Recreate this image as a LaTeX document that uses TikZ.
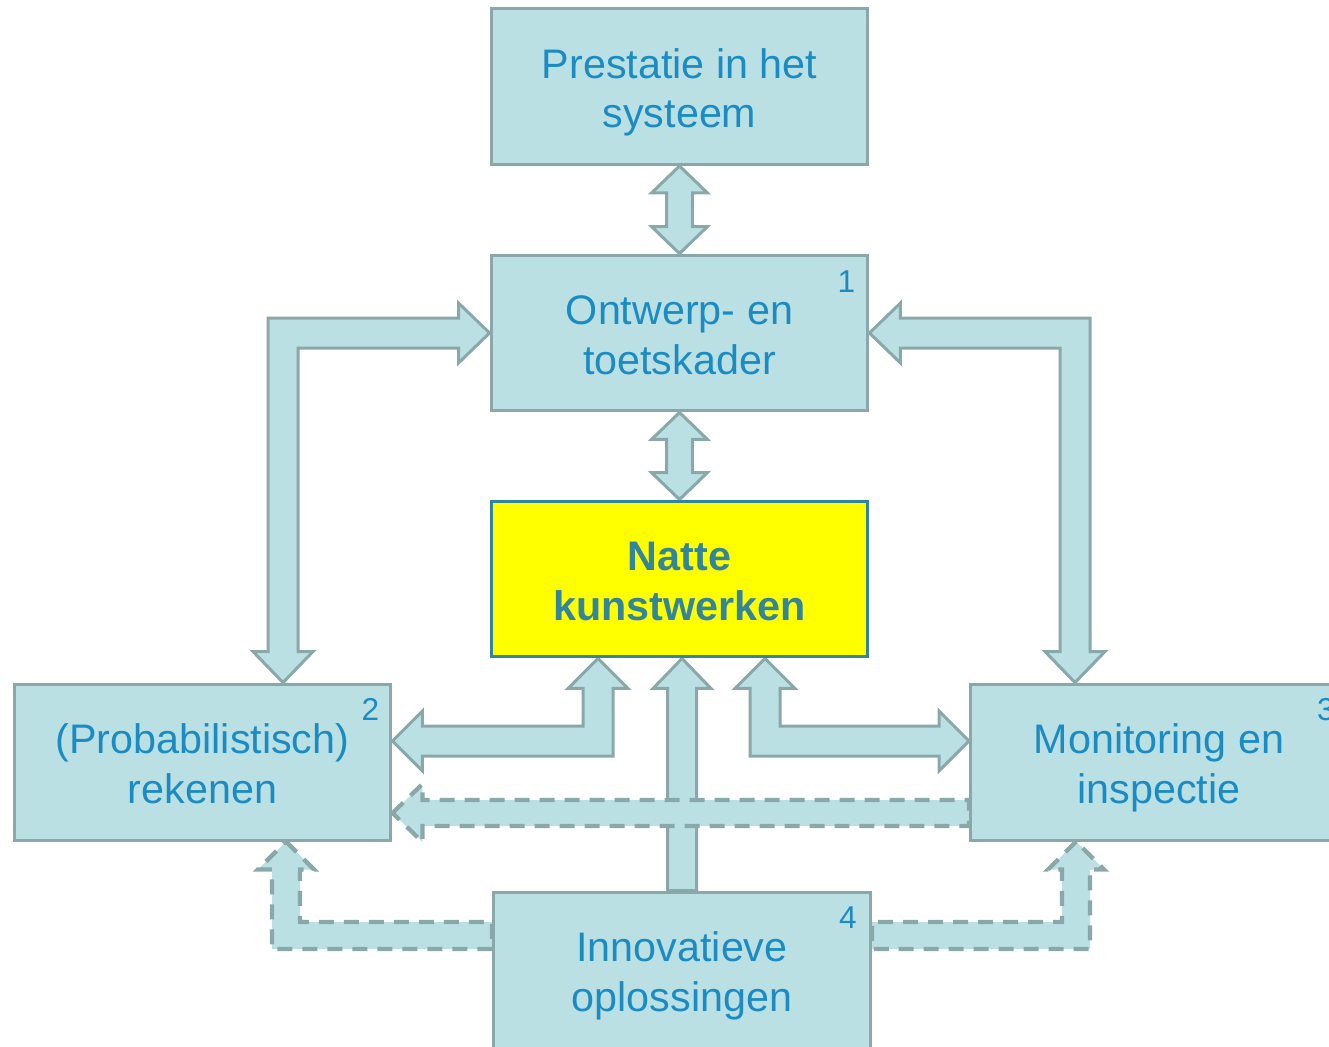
\documentclass[tikz,border=0pt]{standalone}
\usepackage{fontspec}
\setmainfont{Liberation Sans}
\usetikzlibrary{calc,backgrounds}
\definecolor{boxfill}{HTML}{BBE0E4}
\definecolor{boxline}{HTML}{8AA8AA}
\definecolor{txtblue}{HTML}{1B8BC3}
\definecolor{coreline}{HTML}{31859C}
\definecolor{corefill}{HTML}{FFFF00}
% two centred lines with fixed extents, so every box sets its text alike
\newcommand\twolines[2]{\rule{0pt}{24pt}#1\\#2\rule[-5.2pt]{0pt}{5.2pt}}
\tikzset{
  block/.style={rectangle, draw=boxline, fill=boxfill, line width=0.06cm,
    minimum width=7.54cm, minimum height=3.12cm, inner sep=0pt,
    text=txtblue, align=center, font=\fontsize{23.5}{28.4}\selectfont},
  core/.style={block, fill=corefill, draw=coreline, text=coreline,
    font=\fontsize{23.5}{28.4}\selectfont\bfseries},
  tag/.style={text=txtblue, inner sep=0pt, font=\fontsize{18}{18}\selectfont},
  barrow/.style={draw=boxline, fill=boxfill, line width=0.06cm, line join=miter},
  darrow/.style={barrow, line width=0.085cm, dash pattern=on 0.3cm off 0.2cm},
}
\begin{document}
\begin{tikzpicture}[x=0.02cm, y=-0.02cm]
\useasboundingbox (0,0) rectangle (1329,1046);
\clip (0,0) rectangle (1329,1046);

% boxes
\path
  (679.5,86.5) node[block] (top) {\twolines{Prestatie in het}{systeem}}
  (679.5,333)  node[block] (ont) {\twolines{Ontwerp- en}{toetskader}}
  (679.5,579)  node[core]  (natte) {\twolines{Natte}{kunstwerken}}
  (202.5,762)  node[block] (prob) {\twolines{(Probabilistisch)}{rekenen}}
  (1159,762)   node[block] (mon) {\twolines{Monitoring en}{inspectie}}
  (682,970)    node[block] (inno) {\twolines{Innovatieve}{oplossingen}};

% box numbers
\node[tag] (n1) at ($(ont.north east)+(-23,28)$) {1};
\node[tag] (n2) at ($(prob.north east)+(-22,27)$) {2};
\node[tag] (n3) at ($(mon.north east)+(-23,27)$) {3};
\node[tag] (n4) at ($(inno.north east)+(-24,27)$) {4};

% bend points of the elbow arrows
\coordinate (lb) at (283,333);
\coordinate (rb) at (1075,333);
\coordinate (lc) at (598,741);
\coordinate (rc) at (765,741);
\coordinate (ld) at (286,935);
\coordinate (rd) at (1076,935);
\coordinate (ctip) at (inno.north |- natte.south);

\begin{scope}[on background layer]
% double arrow: top <-> ont
\draw[barrow] (top.south) -- ($(top.south)+(28,27)$) -- ($(top.south)+(13,27)$)
  -- ($(ont.north)+(13,-27)$) -- ($(ont.north)+(28,-27)$) -- (ont.north)
  -- ($(ont.north)+(-28,-27)$) -- ($(ont.north)+(-13,-27)$)
  -- ($(top.south)+(-13,27)$) -- ($(top.south)+(-28,27)$) -- cycle;

% double arrow: ont <-> natte
\draw[barrow] (ont.south) -- ($(ont.south)+(28,27)$) -- ($(ont.south)+(13,27)$)
  -- ($(natte.north)+(13,-27)$) -- ($(natte.north)+(28,-27)$) -- (natte.north)
  -- ($(natte.north)+(-28,-27)$) -- ($(natte.north)+(-13,-27)$)
  -- ($(ont.south)+(-13,27)$) -- ($(ont.south)+(-28,27)$) -- cycle;

% elbow: ont <-> prob
\draw[barrow] (ont.west) -- ($(ont.west)+(-31,-30)$) -- ($(ont.west)+(-31,-15)$)
  -- ($(lb)+(-15,-15)$) -- ($(lb |- prob.north)+(-15,-31)$)
  -- ($(lb |- prob.north)+(-30,-31)$) -- (lb |- prob.north)
  -- ($(lb |- prob.north)+(30,-31)$) -- ($(lb |- prob.north)+(15,-31)$)
  -- ($(lb)+(15,15)$) -- ($(ont.west)+(-31,15)$) -- ($(ont.west)+(-31,30)$) -- cycle;

% elbow: ont <-> mon
\draw[barrow] (ont.east) -- ($(ont.east)+(31,-30)$) -- ($(ont.east)+(31,-15)$)
  -- ($(rb)+(15,-15)$) -- ($(rb |- mon.north)+(15,-31)$)
  -- ($(rb |- mon.north)+(30,-31)$) -- (rb |- mon.north)
  -- ($(rb |- mon.north)+(-30,-31)$) -- ($(rb |- mon.north)+(-15,-31)$)
  -- ($(rb)+(-15,15)$) -- ($(ont.east)+(31,15)$) -- ($(ont.east)+(31,30)$) -- cycle;

% elbow: natte <-> prob
\draw[barrow] (lc |- natte.south) -- ($(lc |- natte.south)+(30,30)$)
  -- ($(lc |- natte.south)+(15,30)$) -- ($(lc)+(15,15)$)
  -- ($(lc -| prob.east)+(30,15)$) -- ($(lc -| prob.east)+(30,30)$)
  -- (lc -| prob.east) -- ($(lc -| prob.east)+(30,-30)$)
  -- ($(lc -| prob.east)+(30,-15)$) -- ($(lc)+(-15,-15)$)
  -- ($(lc |- natte.south)+(-15,30)$) -- ($(lc |- natte.south)+(-30,30)$) -- cycle;

% elbow: natte <-> mon
\draw[barrow] (rc |- natte.south) -- ($(rc |- natte.south)+(-30,30)$)
  -- ($(rc |- natte.south)+(-15,30)$) -- ($(rc)+(-15,15)$)
  -- ($(rc -| mon.west)+(-30,15)$) -- ($(rc -| mon.west)+(-30,30)$)
  -- (rc -| mon.west) -- ($(rc -| mon.west)+(-30,-30)$)
  -- ($(rc -| mon.west)+(-30,-15)$) -- ($(rc)+(15,-15)$)
  -- ($(rc |- natte.south)+(15,30)$) -- ($(rc |- natte.south)+(30,30)$) -- cycle;

% straight arrow: inno -> natte
\draw[barrow] (ctip) -- ($(ctip)+(29,30)$) -- ($(ctip)+(14.5,30)$)
  -- ($(inno.north)+(14.5,0)$) -- ($(inno.north)+(-14.5,0)$)
  -- ($(ctip)+(-14.5,30)$) -- ($(ctip)+(-29,30)$) -- cycle;

% dashed arrow: mon -> prob
\draw[darrow] ($(prob.east)+(0,51)$) -- ($(prob.east)+(30,22)$)
  -- ($(prob.east)+(30,38)$) -- ($(mon.west |- prob.east)+(0,38)$)
  -- ($(mon.west |- prob.east)+(0,64)$) -- ($(prob.east)+(30,64)$)
  -- ($(prob.east)+(30,80)$) -- cycle;

% dashed elbow: inno -> prob
\draw[darrow] (ld |- prob.south) -- ($(ld |- prob.south)+(28,28)$)
  -- ($(ld |- prob.south)+(14,28)$) -- ($(ld)+(14,-13)$)
  -- ($(ld -| inno.west)+(0,-13)$) -- ($(ld -| inno.west)+(0,14)$)
  -- ($(ld)+(-14,14)$) -- ($(ld |- prob.south)+(-14,28)$)
  -- ($(ld |- prob.south)+(-28,28)$) -- cycle;

% dashed elbow: inno -> mon
\draw[darrow] (rd |- mon.south) -- ($(rd |- mon.south)+(-28,28)$)
  -- ($(rd |- mon.south)+(-14,28)$) -- ($(rd)+(-14,-13)$)
  -- ($(rd -| inno.east)+(0,-13)$) -- ($(rd -| inno.east)+(0,14)$)
  -- ($(rd)+(14,14)$) -- ($(rd |- mon.south)+(14,28)$)
  -- ($(rd |- mon.south)+(28,28)$) -- cycle;
\end{scope}
\end{tikzpicture}
\end{document}
